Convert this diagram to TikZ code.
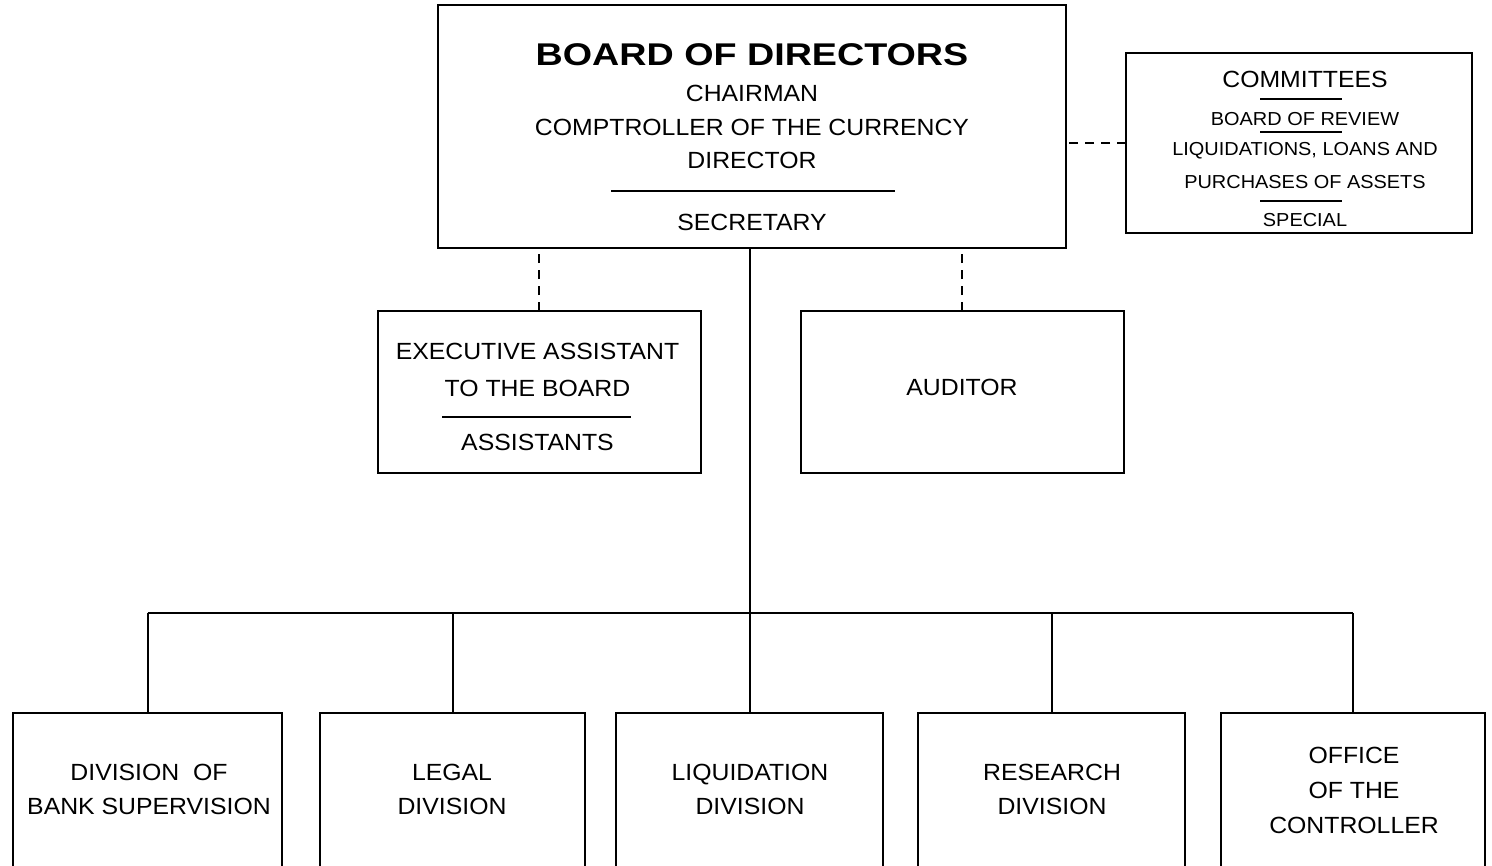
\documentclass[tikz,border=0pt]{standalone}
\usepackage{fontspec}
\setmainfont{Liberation Sans}[FakeStretch=1.06]
\newfontfamily\widebold{Liberation Sans}[FakeStretch=1.2]
\tikzset{
  box/.style={draw, line width=1pt, inner sep=0pt, outer sep=0pt},
  ln/.style={line width=1pt},
  dln/.style={line width=0.9pt, dash pattern=on 4.5pt off 3.5pt},
  rl/.style={line width=0.8pt},
  tx/.style={inner sep=0pt, text height=8.4pt, text depth=0pt, font=\fontsize{11.7}{14}\selectfont},
  sm/.style={inner sep=0pt, text height=6.7pt, text depth=0pt, font=\fontsize{9.4}{11}\selectfont},
  bt/.style={inner sep=0pt, text height=11.2pt, text depth=0pt, font=\widebold\bfseries\fontsize{15.7}{18}\selectfont}
}
\begin{document}
\begin{tikzpicture}[x=0.5pt, y=-0.5pt]
\useasboundingbox (0,0) rectangle (1492,866);
\clip (0,0) rectangle (1492,866);

% Board of directors
\node[box, minimum width=314pt, minimum height=121.5pt] (board) at (752,126.5) {};
\node[bt] (bod) at (752,54) {BOARD OF DIRECTORS};
\node[tx] (chair) at (752,93) {CHAIRMAN};
\node[tx] (comp) at (752,127) {COMPTROLLER OF THE CURRENCY};
\node[tx] (dir) at (752,160) {DIRECTOR};
\draw[rl] (611,191) -- (895,191);
\node[tx] (sec) at (752,222) {SECRETARY};

% Committees
\node[box, minimum width=173pt, minimum height=90pt] (comm) at (1299,143) {};
\node[tx] (commt) at (1305,79) {COMMITTEES};
\draw[rl] (1260,99) -- (1342,99);
\node[sm] (review) at (1305,118.5) {BOARD OF REVIEW};
\draw[rl] (1260,132) -- (1342,132);
\node[sm] (liq1) at (1305,149) {LIQUIDATIONS, LOANS AND};
\node[sm] (liq2) at (1305,182) {PURCHASES OF ASSETS};
\draw[rl] (1260,201) -- (1342,201);
\node[sm] (special) at (1305,220) {SPECIAL};

\draw[dln] (comm.west) -- (comm.west -| board.east);

% Executive assistant
\node[box, minimum width=161.5pt, minimum height=81pt] (exec) at (539,392) {};
\node[tx] (exec1) at (537.5,351) {EXECUTIVE ASSISTANT};
\node[tx] (exec2) at (537.5,388) {TO THE BOARD};
\draw[rl] (442,417) -- (631,417);
\node[tx] (exec3) at (537.5,442) {ASSISTANTS};

% Auditor
\node[box, minimum width=161.5pt, minimum height=81pt] (aud) at (962,392) {};
\node[tx] (audt) at (962,387) {AUDITOR};

\draw[dln] (exec.north) -- (exec.north |- board.south);
\draw[dln] (aud.north) -- (aud.north |- board.south);

% Bottom divisions
\node[box, minimum width=134.5pt, minimum height=83.5pt] (b1) at (147.5,796.5) {};
\node[box, minimum width=132.5pt, minimum height=83.5pt] (b2) at (452.5,796.5) {};
\node[box, minimum width=133.5pt, minimum height=83.5pt] (b3) at (749.5,796.5) {};
\node[box, minimum width=133.5pt, minimum height=83.5pt] (b4) at (1051.5,796.5) {};
\node[box, minimum width=132pt, minimum height=83.5pt] (b5) at (1353,796.5) {};

\node[tx] (b1a) at (149,772) {DIVISION\ \ OF};
\node[tx] (b1b) at (149,806) {BANK SUPERVISION};
\node[tx] (b2a) at (452,772) {LEGAL};
\node[tx] (b2b) at (452,806) {DIVISION};
\node[tx] (b3a) at (750,772) {LIQUIDATION};
\node[tx] (b3b) at (750,806) {DIVISION};
\node[tx] (b4a) at (1052,772) {RESEARCH};
\node[tx] (b4b) at (1052,806) {DIVISION};
\node[tx] (b5a) at (1354,755) {OFFICE};
\node[tx] (b5b) at (1354,790) {OF THE};
\node[tx] (b5c) at (1354,825) {CONTROLLER};

% Connectors
\coordinate (bus) at (750,613);
\draw[ln] (board.south -| bus) -- (bus);
\draw[ln] (b1.north |- bus) -- (b5.north |- bus);
\foreach \b in {b1,b2,b3,b4,b5} \draw[ln] (\b.north) -- (\b.north |- bus);
\end{tikzpicture}
\end{document}
